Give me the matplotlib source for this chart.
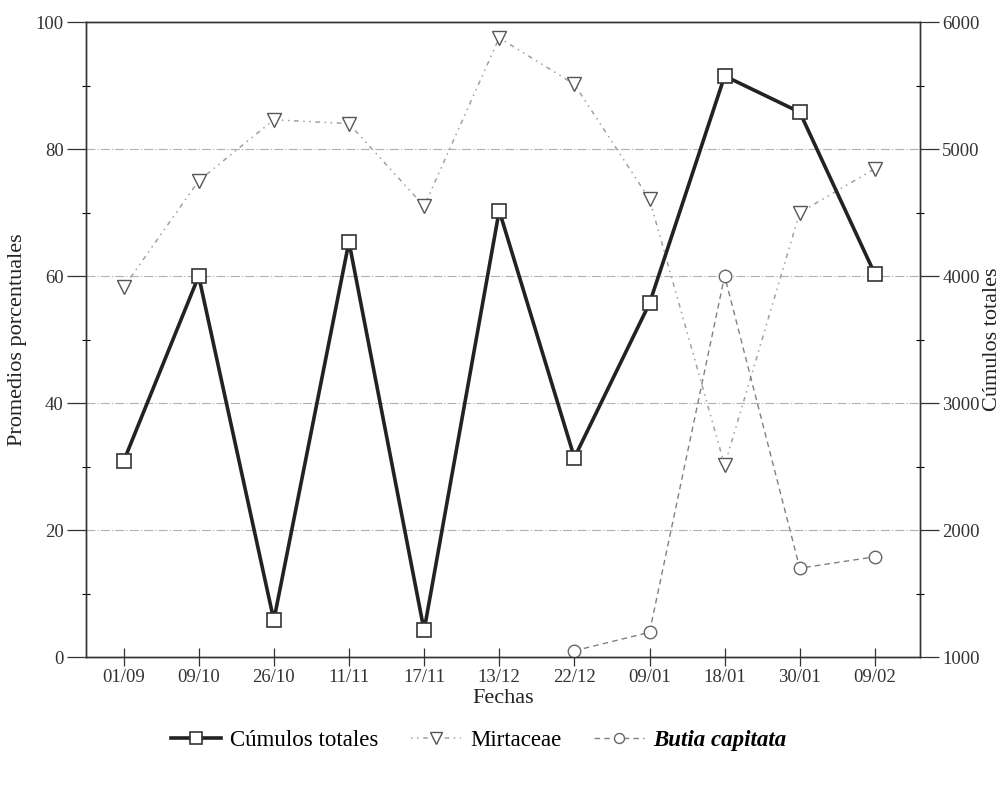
import matplotlib.pyplot as plt
from matplotlib.ticker import MultipleLocator

plt.rcParams['font.family'] = ['Liberation Serif', 'DejaVu Serif']

fechas = ['01/09', '09/10', '26/10', '11/11', '17/11', '13/12',
          '22/12', '09/01', '18/01', '30/01', '09/02']
cumulos = [2540, 4000, 1290, 4270, 1210, 4515, 2570, 3785, 5575, 5290, 4015]
mirtaceae = [58.2, 75.0, 84.6, 84.0, 71.0, 97.5, 90.2, 72.1, 30.2, 70.0, 76.9]
butia_idx = [6, 7, 8, 9, 10]
butia = [1.0, 3.9, 60.0, 14.0, 15.8]

x = list(range(len(fechas)))

fig = plt.figure(figsize=(10.08, 7.86), dpi=100)
ax = fig.add_axes([0.0853, 0.164, 0.8274, 0.808])
ax2 = ax.twinx()

# grid
for g in [20, 40, 60, 80]:
    ax.axhline(g, color='#b0b0b0', lw=0.8, ls=(0, (8, 2, 1, 2)), zorder=0)

ax.plot(x, mirtaceae, color='#a0a0a0', lw=1.1, ls=(0, (1, 3, 1, 3, 3, 3)),
        marker='v', ms=10, mfc='white', mec='#555555', mew=1.0,
        label='Mirtaceae', zorder=3)
ax.plot(butia_idx, butia, color='#808080', lw=1.0, ls=(0, (4, 3)),
        marker='o', ms=9, mfc='white', mec='#666666', mew=1.0,
        label='Butia capitata', zorder=3)
ax2.plot(x, cumulos, color='#222222', lw=2.6, ls='-',
         marker='s', ms=10, mfc='white', mec='#333333', mew=1.2,
         label='Cúmulos totales', zorder=4)

ax.set_xlim(-0.5, 10.6)
ax.set_ylim(0, 100)
ax2.set_ylim(1000, 6000)
ax.set_xticks(x)
ax.set_xticklabels(fechas)
ax.yaxis.set_major_locator(MultipleLocator(20))
ax.yaxis.set_minor_locator(MultipleLocator(10))
ax2.yaxis.set_major_locator(MultipleLocator(1000))
ax2.yaxis.set_minor_locator(MultipleLocator(500))

ax.tick_params(axis='x', direction='inout', length=13, width=0.9, labelsize=13.5,
               colors='#333333', pad=2)
ax.tick_params(axis='y', which='major', direction='out', length=14, width=0.9,
               labelsize=13.5, colors='#333333', pad=2)
ax.tick_params(axis='y', which='minor', direction='inout', length=6, width=0.8)
ax2.tick_params(axis='y', which='major', direction='out', length=14, width=0.9,
                labelsize=13.5, colors='#333333', pad=2)
ax2.tick_params(axis='y', which='minor', direction='inout', length=6, width=0.8)

for a in (ax, ax2):
    for s in a.spines.values():
        s.set_color('#333333')
        s.set_linewidth(1.0)

ax.set_xlabel('Fechas', fontsize=16, color='#222222', labelpad=2)
ax.set_ylabel('Promedios porcentuales', fontsize=16, color='#222222', labelpad=6)
ax2.set_ylabel('Cúmulos totales', fontsize=16, color='#222222', labelpad=2)

h2, l2 = ax2.get_legend_handles_labels()
h1, l1 = ax.get_legend_handles_labels()
leg = fig.legend(h2 + h1, l2 + l1, loc='center', bbox_to_anchor=(0.475, 0.058),
                 ncol=3, frameon=False, fontsize=16.5, handlelength=2.2,
                 columnspacing=1.4, handletextpad=0.4, markerscale=0.8)
leg.get_texts()[2].set_fontweight('bold')
leg.get_texts()[2].set_fontstyle('italic')

fig.savefig('out.png', dpi=100)
